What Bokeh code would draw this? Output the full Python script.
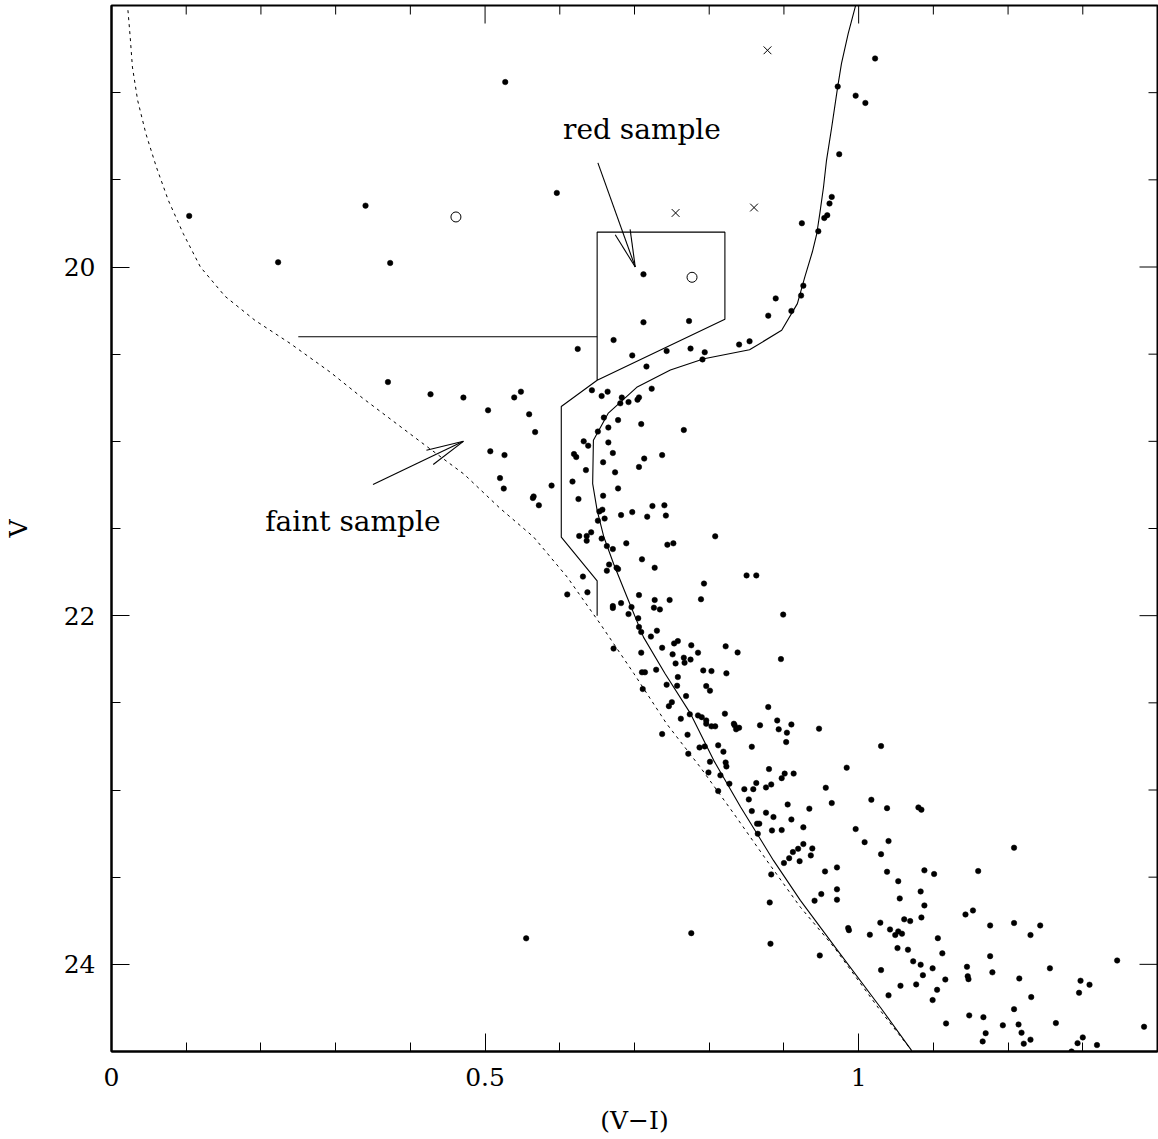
import math

from bokeh.core.properties import value
from bokeh.embed import file_html
from bokeh.models import FixedTicker, Range1d
from bokeh.plotting import figure
from bokeh.resources import INLINE

FONT = "DejaVu Serif"

# ---------------------------------------------------------------- data
# measured stars: (V-I) colour and V magnitude
star_vi = [
    0.104, 0.223, 0.340, 0.373, 0.370,
    0.527, 0.596, 0.712, 0.889, 0.910, 0.879, 0.712, 0.773, 0.672, 0.854,
    0.840, 0.624, 0.743, 0.775, 0.794,
    1.022, 0.972, 0.996, 1.009, 0.974, 0.964, 0.961, 0.958, 0.954, 0.924,
    0.946, 0.926, 0.923,
    0.427, 0.471, 0.539, 0.548, 0.504, 0.559, 0.567, 0.643, 0.656, 0.664,
    0.683, 0.681, 0.692, 0.704, 0.706, 0.723, 0.716, 0.697, 0.791, 0.659,
    0.678, 0.665, 0.651, 0.709, 0.766, 0.632, 0.638, 0.665, 0.507, 0.526,
    0.619, 0.622, 0.671, 0.658, 0.713, 0.706, 0.737, 0.635, 0.674, 0.520,
    0.525, 0.589, 0.617, 0.678, 0.658, 0.565, 0.564, 0.572, 0.625, 0.657,
    0.653, 0.660, 0.651, 0.682, 0.697, 0.717, 0.724, 0.740, 0.742, 0.626,
    0.636, 0.642, 0.636, 0.656, 0.663, 0.671, 0.689, 0.744, 0.752, 0.808,
    0.710, 0.727, 0.666, 0.663, 0.676, 0.678, 0.631, 0.850, 0.863, 0.793,
    0.610, 0.637, 0.706, 0.727, 0.747, 0.789,
    0.671, 0.671, 0.682, 0.696, 0.726, 0.734, 0.692, 0.899, 0.705, 0.706,
    0.709, 0.730, 0.722, 0.672, 0.709, 0.737, 0.753, 0.758, 0.776, 0.822,
    0.838, 0.751, 0.766, 0.775, 0.767, 0.755, 0.785, 0.896, 0.729, 0.710,
    0.714, 0.792, 0.803, 0.823, 0.758, 0.711, 0.743, 0.757, 0.796, 0.801,
    0.769, 0.746, 0.750, 0.737, 0.762, 0.774, 0.785, 0.790, 0.796, 0.796,
    0.803, 0.808, 0.821, 0.833, 0.834, 0.836, 0.840, 0.879, 0.891, 0.910,
    0.893, 0.904, 0.903, 0.868, 0.947, 0.857, 1.030, 0.771, 0.787, 0.794,
    0.772, 0.801, 0.812, 0.819, 0.822, 0.823, 0.799, 0.812, 0.815, 0.827,
    0.847, 0.859, 0.863, 0.853, 0.857, 0.876, 0.883, 0.880, 0.897, 0.901,
    0.913, 0.984, 0.956, 0.964, 0.905, 0.876, 0.886, 0.910, 0.926, 0.934,
    0.897, 0.884, 0.864, 0.867, 0.865, 0.996, 1.017, 1.038, 1.080, 1.084,
    1.008, 1.040, 1.030, 1.038, 1.053, 1.055, 1.088, 1.101, 1.160, 1.083,
    1.088, 1.084, 1.061, 1.069, 1.143, 1.153, 1.176, 0.900, 0.907, 0.912,
    0.919, 0.926, 0.938, 0.936, 0.921, 0.883, 0.955, 0.971, 0.950, 0.941,
    0.971, 0.971, 0.881, 0.986, 0.987, 1.029, 1.042, 1.049, 1.053, 1.058,
    1.015, 1.106, 1.052, 1.066, 0.776, 0.882,
    1.208, 1.208, 1.230, 1.243, 1.073, 1.083, 1.030, 1.086, 1.099, 1.056,
    1.077, 1.040, 1.105, 1.099, 1.112, 1.116, 1.145, 1.146, 1.147, 1.176,
    1.179, 1.215, 1.256, 1.231, 1.208, 1.148, 1.167, 1.117, 1.193, 1.214,
    1.218, 1.170, 1.166, 1.221, 1.230, 1.264, 1.295, 1.297, 1.309, 1.293,
    1.300, 1.319, 1.346, 1.382, 1.285, 0.948, 0.555,
]
star_v = [
    19.707, 19.973, 19.648, 19.977, 20.660,
    18.939, 19.575, 20.042, 20.180, 20.252, 20.279, 20.317, 20.310, 20.419, 20.426,
    20.445, 20.470, 20.482, 20.468, 20.489,
    18.804, 18.965, 19.017, 19.059, 19.353, 19.598, 19.636, 19.703, 19.719, 19.749,
    19.795, 20.107, 20.164,
    20.730, 20.749, 20.748, 20.715, 20.822, 20.845, 20.947, 20.707, 20.740, 20.715,
    20.749, 20.782, 20.775, 20.761, 20.748, 20.698, 20.571, 20.507, 20.530, 20.864,
    20.878, 20.921, 20.944, 20.901, 20.935, 21.000, 21.025, 21.006, 21.057, 21.079,
    21.073, 21.090, 21.067, 21.120, 21.099, 21.147, 21.079, 21.165, 21.178, 21.211,
    21.271, 21.254, 21.231, 21.270, 21.312, 21.316, 21.325, 21.367, 21.331, 21.392,
    21.402, 21.443, 21.455, 21.423, 21.406, 21.432, 21.371, 21.367, 21.426, 21.543,
    21.543, 21.522, 21.570, 21.558, 21.601, 21.618, 21.585, 21.593, 21.585, 21.545,
    21.677, 21.725, 21.707, 21.742, 21.725, 21.733, 21.776, 21.769, 21.769, 21.816,
    21.878, 21.866, 21.882, 21.910, 21.910, 21.906,
    21.945, 21.956, 21.928, 21.951, 21.954, 21.964, 21.991, 21.994, 22.015, 22.065,
    22.094, 22.086, 22.120, 22.189, 22.212, 22.184, 22.159, 22.146, 22.170, 22.176,
    22.211, 22.222, 22.241, 22.252, 22.270, 22.274, 22.212, 22.249, 22.310, 22.325,
    22.325, 22.314, 22.318, 22.331, 22.352, 22.421, 22.396, 22.402, 22.404, 22.430,
    22.461, 22.519, 22.496, 22.679, 22.591, 22.566, 22.572, 22.582, 22.601, 22.620,
    22.635, 22.635, 22.562, 22.620, 22.629, 22.652, 22.643, 22.524, 22.601, 22.624,
    22.652, 22.671, 22.725, 22.629, 22.648, 22.752, 22.748, 22.683, 22.756, 22.750,
    22.792, 22.838, 22.744, 22.780, 22.842, 22.865, 22.899, 23.006, 22.916, 22.964,
    22.995, 22.995, 22.960, 23.054, 23.121, 22.985, 22.968, 22.880, 22.932, 22.906,
    22.906, 22.872, 22.987, 23.075, 23.083, 23.130, 23.155, 23.169, 23.214, 23.107,
    23.230, 23.232, 23.193, 23.193, 23.251, 23.224, 23.056, 23.104, 23.100, 23.113,
    23.299, 23.293, 23.368, 23.469, 23.523, 23.622, 23.461, 23.482, 23.465, 23.582,
    23.662, 23.731, 23.742, 23.752, 23.714, 23.691, 23.777, 23.419, 23.391, 23.356,
    23.337, 23.310, 23.335, 23.375, 23.408, 23.484, 23.467, 23.444, 23.597, 23.635,
    23.570, 23.629, 23.645, 23.792, 23.804, 23.761, 23.800, 23.832, 23.811, 23.824,
    23.830, 23.850, 23.907, 23.916, 23.821, 23.882,
    23.331, 23.763, 23.832, 23.777, 23.983, 24.002, 24.033, 24.062, 24.023, 24.123,
    24.115, 24.178, 24.146, 24.205, 23.937, 24.087, 24.014, 24.068, 24.085, 23.953,
    24.046, 24.081, 24.023, 24.188, 24.257, 24.293, 24.303, 24.339, 24.350, 24.345,
    24.392, 24.395, 24.442, 24.455, 24.432, 24.337, 24.163, 24.094, 24.117, 24.452,
    24.419, 24.463, 23.978, 24.358, 24.500, 23.949, 23.851,
]

# special objects
circle_vi = [0.461, 0.777]
circle_v = [19.713, 20.059]
cross_vi = [0.755, 0.860, 0.878]
cross_v = [19.690, 19.659, 18.757]

# isochrone (solid)
iso_vi = [0.996, 0.986, 0.977, 0.972, 0.964, 0.957, 0.953, 0.948, 0.944, 0.938,
          0.928, 0.918, 0.897, 0.854, 0.793, 0.748, 0.703, 0.665, 0.645, 0.644,
          0.650, 0.659, 0.672, 0.690, 0.712, 0.741, 0.775, 0.806, 0.842, 0.886,
          0.922, 0.971, 1.029, 1.071]
iso_v = [18.499, 18.661, 18.833, 18.965, 19.197, 19.388, 19.541, 19.694, 19.808, 19.914,
         20.057, 20.210, 20.363, 20.475, 20.526, 20.591, 20.690, 20.838, 20.994, 21.243,
         21.396, 21.549, 21.702, 21.893, 22.123, 22.333, 22.562, 22.830, 23.098, 23.404,
         23.633, 23.916, 24.246, 24.495]

# limiting curve (dotted)
lim_vi = [0.022, 0.025, 0.028, 0.035, 0.046, 0.060, 0.076, 0.096, 0.119, 0.152,
          0.192, 0.239, 0.293, 0.337, 0.420, 0.472, 0.520, 0.565, 0.610, 0.654,
          0.699, 0.743, 0.788, 0.833, 0.877, 0.922, 0.967, 1.029, 1.071]
lim_v = [18.527, 18.680, 18.853, 19.044, 19.235, 19.426, 19.617, 19.808, 20.000, 20.168,
         20.306, 20.438, 20.604, 20.755, 21.023, 21.189, 21.384, 21.549, 21.779, 22.046,
         22.331, 22.620, 22.869, 23.136, 23.404, 23.672, 23.901, 24.265, 24.495]

# sample selection boundaries
box_vi = [0.650, 0.650, 0.602, 0.602, 0.650, 0.821, 0.821, 0.650, 0.650]
box_v = [22.00, 21.80, 21.55, 20.80, 20.65, 20.30, 19.80, 19.80, 20.65]
cut_vi = [0.250, 0.650]
cut_v = [20.40, 20.40]

# annotations: label text, label centre, arrow tail, arrow tip
notes = ["red sample", "faint sample"]
note_vi = [0.710, 0.323]
note_v = [19.212, 21.462]
tail_vi = [0.651, 0.350]
tail_v = [19.403, 21.247]
tip_vi = [0.701, 0.471]
tip_v = [20.000, 21.000]

# axes
x_major = [0.0, 0.5, 1.0]
x_minor = [0.1, 0.2, 0.3, 0.4, 0.6, 0.7, 0.8, 0.9, 1.1, 1.2, 1.3]
y_major = [20, 22, 24]
y_minor = [18.5, 19.0, 19.5, 20.5, 21.0, 21.5, 22.5, 23.0, 23.5, 24.5]

X0, X1 = 0.0, 1.4
Y0, Y1 = 24.5, 18.5

# ---------------------------------------------------------------- figure
W, H = 1158, 1139
BL, BR, BT, BB = 111, 1, 5, 88
MAJ, MIN = 18, 9

p = figure(width=W, height=H, x_range=Range1d(X0, X1), y_range=Range1d(Y0, Y1),
           output_backend="svg", toolbar_location=None,
           min_border_left=BL, min_border_right=BR,
           min_border_top=BT, min_border_bottom=BB,
           x_axis_label="(V\u2212I)", y_axis_label="V")
p.xgrid.visible = False
p.ygrid.visible = False
p.outline_line_color = "black"
p.outline_line_width = 2
p.background_fill_color = "white"
p.border_fill_color = "white"

xa = p.xaxis[0]
ya = p.yaxis[0]
xa.ticker = FixedTicker(ticks=x_major, minor_ticks=x_minor)
xa.major_label_overrides = {t: f"{t:g}" for t in x_major}
ya.ticker = FixedTicker(ticks=y_major, minor_ticks=y_minor)

for ax in (xa, ya):
    ax.major_tick_in = MAJ
    ax.major_tick_out = 0
    ax.minor_tick_in = MIN
    ax.minor_tick_out = 0
    ax.major_tick_line_color = "black"
    ax.minor_tick_line_color = "black"
    ax.axis_line_color = "black"
    ax.axis_line_width = 2
    ax.major_label_text_font = FONT
    ax.major_label_text_font_size = "25px"
    ax.major_label_text_color = "black"
    ax.axis_label_text_font = FONT
    ax.axis_label_text_font_size = "25px"
    ax.axis_label_text_font_style = "normal"
    ax.axis_label_text_color = "black"

xa.major_label_standoff = 16
xa.axis_label_standoff = 17
ya.major_label_standoff = 16
ya.axis_label_standoff = 28

# ticks on the top and right edges of the frame
fw = W - BL - BR
fh = H - BT - BB
sx = fw / (X1 - X0)
sy = fh / (Y0 - Y1)
tx0, ty0, tx1, ty1 = [], [], [], []
for ticks, L in ((x_major, MAJ), (x_minor, MIN)):
    for t in ticks:
        tx0.append(t); ty0.append(Y1); tx1.append(t); ty1.append(Y1 + L / sy)
for ticks, L in ((y_major, MAJ), (y_minor, MIN)):
    for t in ticks:
        tx0.append(X1); ty0.append(t); tx1.append(X1 - L / sx); ty1.append(t)
p.segment(tx0, ty0, tx1, ty1, line_color="black", line_width=1)

# ---------------------------------------------------------------- marks
p.line(lim_vi, lim_v, line_color="black", line_width=1, line_dash="3 4")
p.line(iso_vi, iso_v, line_color="black", line_width=1.1)
p.line(box_vi, box_v, line_color="black", line_width=1.1)
p.line(cut_vi, cut_v, line_color="black", line_width=1.1)

p.scatter(star_vi, star_v, size=5.5, marker="circle",
          fill_color="black", line_color="black", line_width=0.5)
p.scatter(circle_vi, circle_v, size=10, marker="circle",
          fill_color=None, line_color="black", line_width=1)
p.scatter(cross_vi, cross_v, size=11, marker="x",
          line_color="black", line_width=1)

# arrows with narrow open heads, built in screen space
head_len = 38.0
head_ang = math.radians(12)
ax0, ay0, ax1, ay1 = [], [], [], []
for tx, tv, hx, hv in zip(tail_vi, tail_v, tip_vi, tip_v):
    ax0.append(tx); ay0.append(tv); ax1.append(hx); ay1.append(hv)
    dx = (tx - hx) * sx
    dy = (tv - hv) * sy
    n = math.hypot(dx, dy)
    ux, uy = dx / n, dy / n
    for s in (-1, 1):
        c, si = math.cos(s * head_ang), math.sin(s * head_ang)
        wx = ux * c - uy * si
        wy = ux * si + uy * c
        ax0.append(hx); ay0.append(hv)
        ax1.append(hx + wx * head_len / sx)
        ay1.append(hv + wy * head_len / sy)
p.segment(ax0, ay0, ax1, ay1, line_color="black", line_width=1.1)

p.text(note_vi, note_v, text=notes, text_font=value(FONT), text_font_size="28px",
       text_align="center", text_baseline="middle", text_color="black")

open("out.html", "w").write(file_html(p, INLINE))
